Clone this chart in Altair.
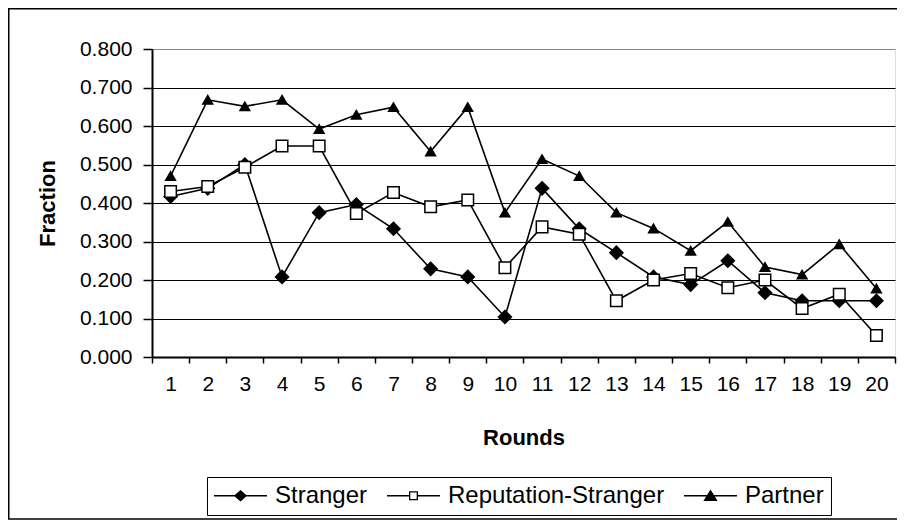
import altair as alt
import pandas as pd

rounds = list(range(1, 21))
series_names = ["Stranger", "Reputation-Stranger", "Partner"]
stranger = [0.417, 0.438, 0.500, 0.208, 0.375, 0.396, 0.333, 0.229, 0.208, 0.104,
            0.438, 0.333, 0.271, 0.208, 0.188, 0.250, 0.167, 0.146, 0.146, 0.146]
reputation = [0.430, 0.443, 0.493, 0.548, 0.548, 0.373, 0.427, 0.390, 0.408, 0.232,
              0.338, 0.319, 0.146, 0.200, 0.217, 0.180, 0.200, 0.126, 0.163, 0.056]
partner = [0.470, 0.668, 0.651, 0.668, 0.592, 0.629, 0.649, 0.534, 0.649, 0.375,
           0.514, 0.470, 0.375, 0.334, 0.276, 0.351, 0.234, 0.214, 0.293, 0.178]
y_ticks = [0.0, 0.1, 0.2, 0.3, 0.4, 0.5, 0.6, 0.7, 0.8]

rows = []
for name, vals in zip(series_names, [stranger, reputation, partner]):
    for r, v in zip(rounds, vals):
        rows.append({"Round": r, "Fraction": v, "Series": name})
df = pd.DataFrame(rows)

FONT = "Liberation Sans"

x_enc = alt.X(
    "Round:O",
    title="Rounds",
    scale=alt.Scale(type="band", paddingInner=0, paddingOuter=0),
    axis=alt.Axis(
        tickBand="extent", labelAngle=0, domainColor="black", domainWidth=2,
        tickColor="black", tickSize=6, tickWidth=1.5, labelFontSize=21, labelPadding=10,
        titleFontSize=22, titleFontWeight="bold", titlePadding=33, grid=False,
    ),
)
y_enc = alt.Y(
    "Fraction:Q",
    title="Fraction",
    scale=alt.Scale(domain=[0, 0.8], nice=False, zero=True),
    axis=alt.Axis(
        values=y_ticks, format=".3f", domainColor="black", domainWidth=2,
        tickColor="black", tickSize=9, tickWidth=1.5, labelFontSize=21, labelPadding=11,
        titleFontSize=22, titleFontWeight="bold", titlePadding=20,
        grid=True, gridWidth=1.2,
        gridColor={"condition": {"test": "datum.value >= 0.8", "value": "#888888"}, "value": "black"},
    ),
)

lines = alt.Chart(df).mark_line(color="black", strokeWidth=1.6).encode(
    x=x_enc, y=y_enc, detail="Series:N"
)

points = alt.Chart(df).mark_point(filled=True, stroke="black", strokeWidth=1.5, opacity=1).encode(
    x=x_enc,
    y=y_enc,
    shape=alt.Shape("Series:N", scale=alt.Scale(domain=series_names, range=["diamond", "square", "triangle-up"]), legend=None),
    fill=alt.Fill("Series:N", scale=alt.Scale(domain=series_names, range=["black", "white", "black"]), legend=None),
    size=alt.Size("Series:N", scale=alt.Scale(domain=series_names, range=[170, 95, 165]), legend=None),
)

# legend glyphs: a short line with the marker, all built from filled shapes
legend_paths = [
    "M-1,-0.026H1V0.026H-1Z M-0.25,0L0,-0.22L0.25,0L0,0.22Z",
    "M-1,-0.026H-0.17V0.026H-1Z M0.17,-0.026H1V0.026H0.17Z "
    "M-0.17,-0.17H0.17V0.17H-0.17Z M-0.12,-0.12V0.12H0.12V-0.12Z",
    "M-1,-0.026H1V0.026H-1Z M0,-0.24L0.27,0.2H-0.27Z",
]

legend_layer = alt.Chart(df).mark_point(filled=True, color="black", opacity=0).encode(
    x=x_enc,
    y=y_enc,
    shape=alt.Shape(
        "Series:N",
        scale=alt.Scale(domain=series_names, range=legend_paths),
        legend=alt.Legend(
            title=None, orient="none", legendX=55, legendY=428, direction="horizontal",
            symbolSize=2809, symbolFillColor="black", symbolStrokeColor="transparent",
            symbolStrokeWidth=0, symbolOpacity=1, labelFontSize=24, labelFont=FONT,
            labelColor="black", labelLimit=400, labelOffset=8, columnPadding=19,
            clipHeight=23, padding=7, strokeColor="black", fillColor="white",
        ),
    ),
)

frame = alt.Chart(pd.DataFrame({"a": [0]})).mark_rect(
    fill="transparent", stroke="black", strokeWidth=1.5
).encode(
    x=alt.value(-143.25), x2=alt.value(780), y=alt.value(-40.25), y2=alt.value(470)
)

chart = alt.layer(frame, lines, points, legend_layer).resolve_scale(
    shape="independent"
).properties(
    width=743, height=308,
    autosize=alt.AutoSizeParams(type="none"),
    padding={"left": 144, "top": 41, "right": 2, "bottom": 164},
).configure_view(
    stroke="#888888", strokeWidth=2
).configure_axis(
    labelFont=FONT, titleFont=FONT, labelColor="black", titleColor="black"
).configure(background="white")

chart.save("out.html", embed_options={"renderer": "svg", "actions": False})
